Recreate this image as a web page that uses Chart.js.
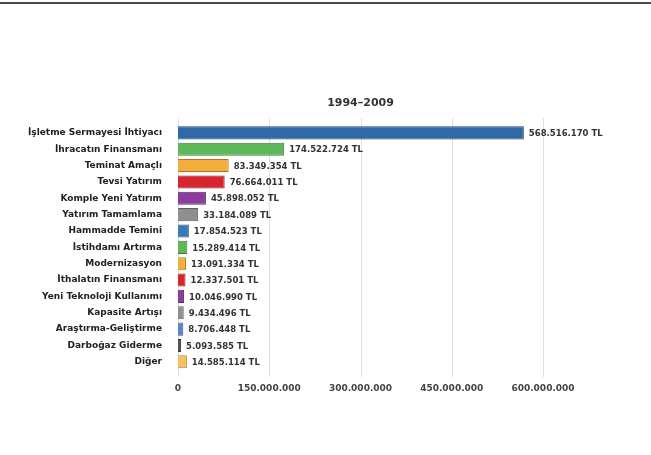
<!DOCTYPE html>
<html lang="tr">
<head>
<meta charset="utf-8">
<title>1994–2009</title>
<script src="https://cdn.jsdelivr.net/npm/chart.js@4/dist/chart.umd.min.js"></script>
<style>
    html, body { margin: 0; padding: 0; background: #fff; }
    .top-rule { position: absolute; left: 0; top: 2px; width: 651px; height: 2px; background: #4a4a4a; }
    .wrap { position: absolute; left: 0; top: 0; width: 651px; height: 455px; }
</style>
</head>
<body>
<div class="top-rule"></div>
<div class="wrap"><canvas id="chart" width="651" height="455"></canvas></div>
<script>
// Dữ liệu
const chartTitle = '1994–2009';
const categories = [
    'İşletme Sermayesi İhtiyacı',
    'İhracatın Finansmanı',
    'Teminat Amaçlı',
    'Tevsi Yatırım',
    'Komple Yeni Yatırım',
    'Yatırım Tamamlama',
    'Hammadde Temini',
    'İstihdamı Artırma',
    'Modernizasyon',
    'İthalatın Finansmanı',
    'Yeni Teknoloji Kullanımı',
    'Kapasite Artışı',
    'Araştırma-Geliştirme',
    'Darboğaz Giderme',
    'Diğer'
];
const amounts = [
    568516170, 174522724, 83349354, 76664011, 45898052,
    33184089, 17854523, 15289414, 13091334, 12337501,
    10046990, 9434496, 8706448, 5093585, 14585114
];
const xTicks = [0, 150000000, 300000000, 450000000, 600000000];

const fillColors = [
    '#2f6aa6', '#5db85a', '#f5ae3e', '#d8262f', '#8b3d9b', '#8f8f8f',
    '#3a78b8', '#5db85a', '#f5ae3e', '#d8262f', '#8b3d9b', '#8f8f8f',
    '#5b86bf', '#555555', '#f5c060'
];
const edgeColors = [
    '#1f4a75', '#3d7f3b', '#a8752a', '#8e1a20', '#5c2866', '#5e5e5e',
    '#26507c', '#3d7f3b', '#a8752a', '#8e1a20', '#5c2866', '#5e5e5e',
    '#3c5a80', '#333333', '#a8823f'
];

const FONT = '"DejaVu Sans", Verdana, sans-serif';
const fmt = n => String(n).replace(/\B(?=(\d{3})+(?!\d))/g, '.');

// Lưới dọc kéo dài hơn vùng vẽ một chút
const extendedGrid = {
    id: 'extendedGrid',
    beforeDatasetsDraw(chart) {
        const { ctx, chartArea, scales } = chart;
        ctx.save();
        ctx.strokeStyle = '#e0e0e0';
        ctx.lineWidth = 1;
        xTicks.forEach(v => {
            const x = Math.round(scales.x.getPixelForValue(v)) + 0.5;
            ctx.beginPath();
            ctx.moveTo(x, chartArea.top - 7);
            ctx.lineTo(x, chartArea.bottom + 7);
            ctx.stroke();
        });
        ctx.restore();
    }
};

// Nhãn giá trị ở cuối thanh
const valueLabels = {
    id: 'valueLabels',
    afterDatasetsDraw(chart) {
        const ctx = chart.ctx;
        const meta = chart.getDatasetMeta(0);
        ctx.save();
        ctx.font = 'bold 8.5px ' + FONT;
        ctx.fillStyle = '#333';
        ctx.textAlign = 'left';
        ctx.textBaseline = 'middle';
        meta.data.forEach((bar, i) => {
            ctx.fillText(fmt(amounts[i]) + ' TL', bar.x + 5, bar.y + 1);
        });
        ctx.restore();
    }
};

new Chart(document.getElementById('chart'), {
    type: 'bar',
    data: {
        labels: categories,
        datasets: [{
            data: amounts,
            backgroundColor: fillColors,
            borderColor: edgeColors,
            borderWidth: 1,
            barPercentage: 0.8,
            categoryPercentage: 1
        }]
    },
    options: {
        indexAxis: 'y',
        responsive: false,
        animation: false,
        layout: { padding: { top: 97, right: 108, bottom: 45, left: 0 } },
        plugins: {
            legend: { display: false },
            tooltip: { enabled: false },
            title: {
                display: true,
                text: chartTitle,
                fullSize: false,
                color: '#333',
                font: { family: FONT, size: 11, weight: 'bold' },
                padding: { top: 0, bottom: 14.5 }
            }
        },
        scales: {
            x: {
                min: 0,
                max: 600000000,
                afterBuildTicks: scale => { scale.ticks = xTicks.map(v => ({ value: v })); },
                afterFit: scale => { scale.height = 40; },
                grid: { display: false, drawTicks: true, tickLength: 7 },
                border: { display: false },
                ticks: {
                    color: '#444',
                    padding: 6,
                    font: { family: FONT, size: 9, weight: 'bold' },
                    callback: v => fmt(v)
                }
            },
            y: {
                afterFit: scale => { scale.width = 178; },
                grid: { display: false, drawTicks: false },
                border: { display: false },
                ticks: {
                    color: '#222',
                    padding: 16,
                    font: { family: FONT, size: 9, weight: 'bold' }
                }
            }
        }
    },
    plugins: [extendedGrid, valueLabels]
});
</script>
</body>
</html>
